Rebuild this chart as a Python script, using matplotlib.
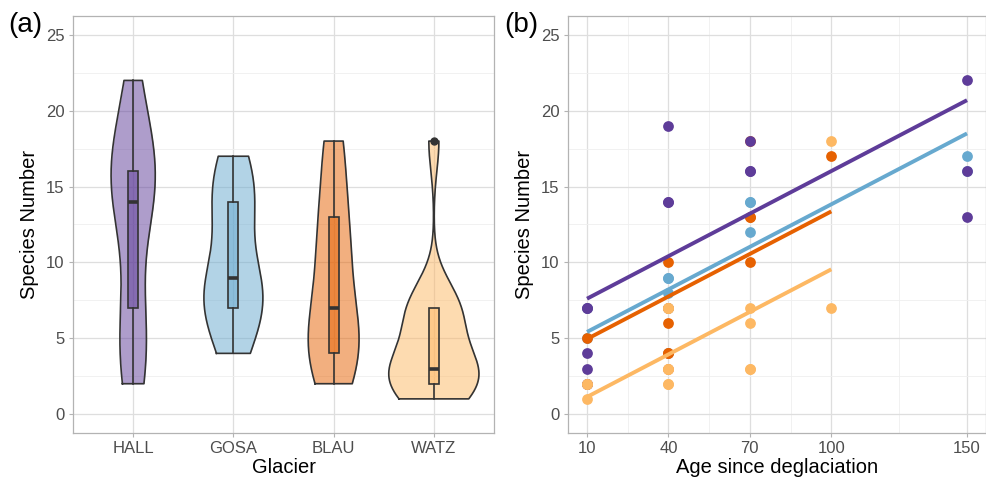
import numpy as np
import matplotlib
matplotlib.use('Agg')
import matplotlib.pyplot as plt

plt.rcParams['font.family'] = ['Liberation Sans', 'DejaVu Sans']

# Datos por glaciar: edad desde la deglaciación y número de especies
glaciers = ['HALL', 'GOSA', 'BLAU', 'WATZ']
colors = ['#5e3c99', '#67a9cf', '#e66101', '#fdb863']

hall_age = [10, 10, 10, 10, 10, 40, 40, 40, 70, 70, 70, 150, 150, 150]
hall_sp = [2, 3, 4, 7, 7, 14, 14, 19, 16, 16, 18, 13, 16, 22]
gosa_age = [10, 10, 40, 40, 40, 40, 40, 70, 70, 70, 150, 150]
gosa_sp = [5, 7, 4, 7, 8, 9, 9, 12, 14, 14, 16, 17]
blau_age = [10, 10, 40, 40, 40, 40, 40, 40, 70, 70, 70, 70, 100]
blau_sp = [2, 5, 3, 4, 4, 6, 7, 10, 10, 13, 13, 18, 17]
watz_age = [10, 10, 10, 40, 40, 40, 40, 40, 40, 70, 70, 70, 70, 100, 100]
watz_sp = [1, 2, 2, 2, 2, 3, 3, 7, 7, 3, 3, 6, 7, 7, 18]

ages = [hall_age, gosa_age, blau_age, watz_age]
species = [hall_sp, gosa_sp, blau_sp, watz_sp]
age_ticks = [10, 40, 70, 100, 150]
point_order = [1, 2, 0, 3]   # orden de dibujo de los puntos


def nrd0(y):
    y = np.asarray(y, float)
    hi = y.std(ddof=1)
    q75, q25 = np.percentile(y, [75, 25])
    lo = min(hi, (q75 - q25) / 1.34)
    return 0.9 * lo * len(y) ** -0.2


def density(y, grid):
    y = np.asarray(y, float)
    bw = nrd0(y)
    z = (grid[:, None] - y[None, :]) / bw
    return np.exp(-0.5 * z ** 2).sum(axis=1) / (len(y) * bw * np.sqrt(2 * np.pi))


fig = plt.figure(figsize=(9.87, 4.84), dpi=100)
ax1 = fig.add_axes([0.074, 0.1054, 0.4265, 0.8616])
ax2 = fig.add_axes([0.5755, 0.1054, 0.4235, 0.8616])

for ax in (ax1, ax2):
    ax.set_ylim(-1.25, 26.25)
    ax.set_yticks([0, 5, 10, 15, 20, 25])
    ax.set_yticks([2.5, 7.5, 12.5, 17.5, 22.5], minor=True)
    ax.grid(True, which='major', color='#dedede', lw=0.9)
    ax.grid(True, which='minor', color='#efefef', lw=0.6)
    ax.set_axisbelow(True)
    for s in ax.spines.values():
        s.set_color('#b3b3b3')
        s.set_linewidth(0.9)
    ax.tick_params(which='major', length=3, color='#b3b3b3', labelsize=12,
                   labelcolor='#4d4d4d', pad=3)
    ax.tick_params(which='minor', length=0)
    ax.set_ylabel('Species Number', fontsize=14.5, labelpad=5)

# (a) violines + boxplots
grids = [np.linspace(min(y), max(y), 512) for y in species]
dens = [density(y, g) for y, g in zip(species, grids)]
dmax = max(d.max() for d in dens)
for i, (y, g, d, c) in enumerate(zip(species, grids, dens, colors)):
    w = 0.45 * d / dmax
    ax1.fill_betweenx(g, i - w, i + w, color=c, alpha=0.5, lw=0, zorder=2)
    ax1.plot(np.r_[i - w, (i + w)[::-1], i - w[0]], np.r_[g, g[::-1], g[0]],
             color='#333333', lw=1.2, zorder=3)
    bp = ax1.boxplot([y], positions=[i], widths=0.1, patch_artist=True,
                     manage_ticks=False, showcaps=False,
                     flierprops=dict(marker='o', markersize=5, markerfacecolor='#333333',
                                     markeredgecolor='#333333'),
                     medianprops=dict(color='#333333', lw=2.6),
                     whiskerprops=dict(color='#333333', lw=1.2),
                     boxprops=dict(edgecolor='#333333', lw=1.2))
    for p in bp['boxes']:
        p.set_facecolor(matplotlib.colors.to_rgba(c, 0.5))
        p.set_zorder(4)
    for k in ('whiskers', 'medians', 'fliers'):
        for a in bp[k]:
            a.set_zorder(4)

ax1.set_xlim(-0.6, 3.6)
ax1.set_xticks(range(len(glaciers)))
ax1.set_xticklabels(glaciers)
ax1.xaxis.grid(True, color='#dedede', lw=0.9)
ax1.set_xlabel('Glacier', fontsize=14.5, labelpad=1)

# (b) puntos + rectas con pendiente común (modelo aditivo)
X = np.concatenate([np.asarray(a, float) for a in ages])
Y = np.concatenate([np.asarray(s, float) for s in species])
G = np.concatenate([[i] * len(a) for i, a in enumerate(ages)])
D = np.column_stack([X] + [(G == i).astype(float) for i in range(len(glaciers))])
coef = np.linalg.lstsq(D, Y, rcond=None)[0]

for z, i in enumerate(point_order):
    ax2.scatter(ages[i], species[i], s=60, color=colors[i], lw=0, zorder=3 + z)
for i, (a, c) in enumerate(zip(ages, colors)):
    xs = np.array([min(a), max(a)])
    ax2.plot(xs, coef[0] * xs + coef[1 + i], color=c, lw=2.8, zorder=10 + i,
             solid_capstyle='butt')

ax2.set_xlim(3, 157)
ax2.set_xticks(age_ticks)
ax2.set_xticks([25, 55, 85, 125], minor=True)
ax2.set_xlabel('Age since deglaciation', fontsize=14.5, labelpad=1)

fig.text(0.008, 0.948, '(a)', fontsize=20, va='center', ha='left')
fig.text(0.511, 0.948, '(b)', fontsize=20, va='center', ha='left')

fig.savefig('out.png', dpi=100)
